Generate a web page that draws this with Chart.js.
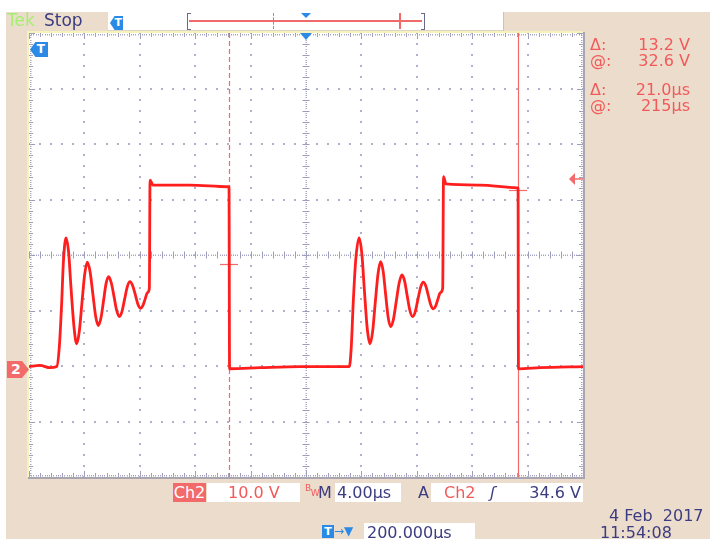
<!DOCTYPE html>
<html><head><meta charset="utf-8">
<script src="https://cdn.jsdelivr.net/npm/chart.js@4.4.0/dist/chart.umd.min.js"></script>
<style>
html,body{margin:0;padding:0;width:710px;height:539px;overflow:hidden;background:#fff;font-family:"DejaVu Sans",sans-serif;}
#bg{position:absolute;left:6px;top:12px;right:0;bottom:0;background:#ecdccb;}
#c{position:absolute;left:0;top:0;}
.t{position:absolute;font-size:16px;line-height:19px;white-space:pre;}
.red{color:#f25a5a;}
.navy{color:#3c3c80;}
.box{position:absolute;background:#fff;}
</style></head>
<body>
<div id="bg"></div>
<div class="box" style="left:108px;top:12px;width:395px;height:18px;border-right:1px solid #c9c4bc;border-bottom:1px solid #ddd3c6;"></div>
<canvas id="c" width="710" height="539"></canvas>

<!-- top bar -->
<div class="t" style="left:7px;top:11px;font-size:17px;color:#a6ee74;">Tek</div>
<div class="t navy" style="left:44px;top:11px;font-size:17px;">Stop</div>
<div style="position:absolute;left:110px;top:16px;width:13px;height:14px;background:#2a8ae6;clip-path:polygon(35% 0,100% 0,100% 100%,35% 100%,0 50%);color:#fff;font:bold 11px 'DejaVu Sans';line-height:14px;text-align:right;padding-right:1px;box-sizing:border-box;">T</div>
<div style="position:absolute;left:187px;top:13px;width:3px;height:15px;border:1.5px solid #6a6a8a;border-right:none;"></div>
<div style="position:absolute;left:421px;top:13px;width:3px;height:15px;border:1.5px solid #6a6a8a;border-left:none;"></div>
<div style="position:absolute;left:189px;top:20px;width:233px;height:1.5px;background:#f06a6a;"></div>
<div style="position:absolute;left:273px;top:13px;width:0;height:16px;border-left:1px dashed #f06a6a;"></div>
<div style="position:absolute;left:399px;top:13px;width:1.5px;height:16px;background:#f06a6a;"></div>
<div style="position:absolute;left:301px;top:13px;width:0;height:0;border-left:5px solid transparent;border-right:5px solid transparent;border-top:5px solid #2a8ae6;"></div>

<!-- graticule markers -->
<div style="position:absolute;left:30px;top:42px;width:18px;height:15px;background:#2a8ae6;clip-path:polygon(30% 0,100% 0,100% 100%,30% 100%,0 50%);color:#fff;font:bold 12px 'DejaVu Sans';line-height:15px;text-align:right;padding-right:3px;box-sizing:border-box;">T</div>
<div style="position:absolute;left:7px;top:361px;width:22px;height:17px;background:#f26a6a;clip-path:polygon(0 0,68% 0,100% 50%,68% 100%,0 100%);color:#fff;font:bold 14px 'DejaVu Sans';line-height:17px;padding-left:4px;box-sizing:border-box;">2</div>

<!-- cursor readouts -->
<div class="t red" style="left:590px;top:35px;">Δ:</div>
<div class="t red" style="left:600px;top:35px;width:90px;text-align:right;">13.2 V</div>
<div class="t red" style="left:590px;top:51px;">@:</div>
<div class="t red" style="left:600px;top:51px;width:90px;text-align:right;">32.6 V</div>
<div class="t red" style="left:590px;top:80px;">Δ:</div>
<div class="t red" style="left:600px;top:80px;width:90px;text-align:right;">21.0µs</div>
<div class="t red" style="left:590px;top:96px;">@:</div>
<div class="t red" style="left:600px;top:96px;width:90px;text-align:right;">215µs</div>

<!-- bottom row 1 -->
<div class="t" style="left:173px;top:483px;width:33px;height:19px;background:#f26a6a;color:#fff;text-align:center;">Ch2</div>
<div class="box" style="left:207px;top:483px;width:93px;height:19px;"></div>
<div class="t red" style="left:228px;top:483px;">10.0 V</div>
<div style="position:absolute;left:305px;top:484px;font:9px 'DejaVu Sans';color:#f25a5a;line-height:9px;">B<span style="position:relative;top:5px;">W</span></div>
<div class="t navy" style="left:318px;top:483px;">M</div>
<div class="box" style="left:335px;top:483px;width:66px;height:19px;"></div>
<div class="t navy" style="left:337px;top:483px;">4.00µs</div>
<div class="t navy" style="left:418px;top:483px;">A</div>
<div class="box" style="left:431px;top:483px;width:152px;height:19px;"></div>
<div class="t red" style="left:444px;top:483px;">Ch2</div>
<div class="t navy" style="left:490px;top:483px;font-style:italic;">ʃ</div>
<div class="t navy" style="left:500px;top:483px;width:81px;text-align:right;">34.6 V</div>

<!-- bottom row 2 -->
<div style="position:absolute;left:322px;top:525px;width:12px;height:13px;background:#2a8ae6;color:#fff;font:bold 11px 'DejaVu Sans';line-height:13px;text-align:center;">T</div>
<div class="t" style="left:334px;top:522px;font-size:12px;color:#2a8ae6;">→▼</div>
<div class="box" style="left:364px;top:523px;width:111px;height:19px;"></div>
<div class="t navy" style="left:367px;top:523px;">200.000µs</div>
<div class="t navy" style="left:609px;top:506px;">4 Feb  2017</div>
<div class="t navy" style="left:600px;top:523px;">11:54:08</div>

<script>
// ---- data (time in µs, voltage in V) ----
const timeUs = [
  0, 0.79, 1.52, 2.0, 2.19, 2.36, 2.48, 2.67,
  2.86, 3.03, 3.25, 3.44,
  3.63, 3.82, 4.02, 4.21,
  4.41, 4.61, 4.81, 5.00,
  5.19, 5.38, 5.56, 5.75,
  5.94, 6.14, 6.33, 6.52,
  6.71, 6.90, 7.10, 7.29,
  7.48, 7.68, 7.87, 8.06,
  8.22, 8.38, 8.55, 8.69,
  8.74, 8.95, 11.6, 14.37, 14.44, 14.48, 16.68, 19.57,
  23.13, 23.27, 23.41, 23.59, 23.83,
  24.03, 24.22, 24.42, 24.62,
  24.81, 25.00, 25.20, 25.39,
  25.57, 25.75, 25.93, 26.11,
  26.32, 26.52, 26.73, 26.93,
  27.12, 27.31, 27.50, 27.70,
  27.89, 28.08, 28.28, 28.47,
  28.65, 28.83, 29.01, 29.19,
  29.36, 29.53, 29.70, 29.87,
  29.93, 30.11, 32.56, 35.23, 35.31, 35.34, 36.9, 40
];
const volts = [
  -0.1, 0.1, -0.3, -0.1, 3.5, 11.4, 18.6, 23.1,
  20.5, 14.2, 7.0, 4.0,
  6.2, 11.3, 16.5, 18.7,
  17.0, 13.0, 9.0, 7.3,
  8.6, 11.7, 14.8, 16.1,
  15.0, 12.5, 10.0, 8.9,
  9.8, 12.0, 14.3, 15.2,
  14.5, 12.8, 11.1, 10.4,
  10.9, 12.0, 13.2, 14.0,
  33.5, 32.6, 32.6, 32.3, 32.3, -0.5, -0.3, -0.1,
  -0.1, 3.5, 11.4, 19.1, 23.1,
  20.3, 13.5, 6.8, 4.0,
  6.2, 11.4, 16.6, 18.8,
  17.1, 12.9, 8.8, 7.1,
  8.5, 11.7, 15.0, 16.4,
  15.3, 12.6, 10.0, 8.9,
  9.8, 12.0, 14.2, 15.1,
  14.4, 12.7, 11.0, 10.3,
  10.8, 12.1, 13.2, 14.0,
  34.1, 32.8, 32.6, 32.1, 32.1, -0.5, -0.3, -0.1
];
const xTicks = [0,4,8,12,16,20,24,28,32,36,40];
const yTicks = [-20,-10,0,10,20,30,40,50,60];
const cursorTimes = [14.44, 35.31];
const cursorLevels = [18.4, 31.7];
const triggerLevel = 33.7;
const triggerTime = 20;

const graticule = {
  id:'graticule',
  beforeDatasetsDraw(chart){
    const {ctx, chartArea:a, scales:{x,y}} = chart;
    ctx.save();
    ctx.fillStyle='#ffffff';
    ctx.fillRect(a.left,a.top,a.right-a.left,a.bottom-a.top);
    const dot=(px,py,c)=>{ctx.fillStyle=c;ctx.fillRect(Math.round(px)-1,Math.round(py)-1,2,2);};
    const xMinor=(xTicks[1]-xTicks[0])/5, yMinor=(yTicks[1]-yTicks[0])/5;
    const xMin=xTicks[0], xMax=xTicks[xTicks.length-1], yMin=yTicks[0], yMax=yTicks[yTicks.length-1];
    const dc='#b0b0ca';
    xTicks.slice(1,-1).forEach(tx=>{
      if (tx===triggerTime) return;
      for(let v=yMin; v<=yMax+1e-6; v+=yMinor) dot(x.getPixelForValue(tx), y.getPixelForValue(v), dc);
    });
    yTicks.slice(1,-1).forEach(ty=>{
      if (ty===20) return;
      for(let t=xMin; t<=xMax+1e-6; t+=xMinor) dot(x.getPixelForValue(t), y.getPixelForValue(ty), dc);
    });
    const cx=x.getPixelForValue(20), cy=y.getPixelForValue(20);
    ctx.fillStyle='#a6a6c4';
    for(let t=xMin; t<=xMax+1e-6; t+=xMinor/5) ctx.fillRect(Math.round(x.getPixelForValue(t)),Math.round(cy)-0.5,1,1.5);
    for(let v=yMin; v<=yMax+1e-6; v+=yMinor/5) ctx.fillRect(Math.round(cx)-0.5,Math.round(y.getPixelForValue(v)),1.5,1);
    ctx.strokeStyle='#9c9cbc'; ctx.lineWidth=1;
    ctx.beginPath();
    for(let t=xMin; t<=xMax+1e-6; t+=xMinor){const px=Math.round(x.getPixelForValue(t))+0.5; ctx.moveTo(px,cy-3.5); ctx.lineTo(px,cy+3.5);}
    for(let v=yMin; v<=yMax+1e-6; v+=yMinor){const py=Math.round(y.getPixelForValue(v))+0.5; ctx.moveTo(cx-3.5,py); ctx.lineTo(cx+3.5,py);}
    let i=0;
    for(let t=xMin; t<=xMax+1e-6; t+=xMinor, i++){const px=Math.round(x.getPixelForValue(t))+0.5; const L=(i%5===0)?6:4;
      ctx.moveTo(px,a.top); ctx.lineTo(px,a.top+L); ctx.moveTo(px,a.bottom); ctx.lineTo(px,a.bottom-L);}
    i=0;
    for(let v=yMin; v<=yMax+1e-6; v+=yMinor, i++){const py=Math.round(y.getPixelForValue(v))+0.5; const L=(i%5===0)?6:4;
      ctx.moveTo(a.left,py); ctx.lineTo(a.left+L,py); ctx.moveTo(a.right,py); ctx.lineTo(a.right-L,py);}
    ctx.stroke();
    ctx.fillStyle='#a6a6c4';
    for(let t=xMin; t<=xMax+1e-6; t+=xMinor/5){const px=Math.round(x.getPixelForValue(t)); ctx.fillRect(px,a.top+1,1,1.5); ctx.fillRect(px,a.bottom-2,1,1.5);}
    for(let v=yMin; v<=yMax+1e-6; v+=yMinor/5){const py=Math.round(y.getPixelForValue(v)); ctx.fillRect(a.left+1,py,1.5,1); ctx.fillRect(a.right-2,py,1.5,1);}
    ctx.lineWidth=2;
    ctx.strokeStyle='#f6f2bc';
    ctx.beginPath(); ctx.moveTo(a.left-1,a.bottom); ctx.lineTo(a.left-1,a.top-1); ctx.lineTo(a.right,a.top-1); ctx.stroke();
    ctx.strokeStyle='#a8a4b0';
    ctx.beginPath(); ctx.moveTo(a.right+1,a.top-1); ctx.lineTo(a.right+1,a.bottom+1); ctx.lineTo(a.left-1,a.bottom+1); ctx.stroke();
    ctx.strokeStyle='#f26a6a'; ctx.lineWidth=1.2;
    cursorTimes.forEach((ct,k)=>{
      const px=Math.round(x.getPixelForValue(ct))+0.5;
      ctx.setLineDash(k===0?[5,3]:[]);
      ctx.beginPath(); ctx.moveTo(px,a.top); ctx.lineTo(px,a.bottom); ctx.stroke();
    });
    ctx.setLineDash([]);
    cursorTimes.forEach((ct,k)=>{
      const px=x.getPixelForValue(ct), py=Math.round(y.getPixelForValue(cursorLevels[k]))+0.5;
      ctx.beginPath(); ctx.moveTo(px-9,py); ctx.lineTo(px+9,py); ctx.stroke();
    });
    const tp=x.getPixelForValue(triggerTime);
    ctx.fillStyle='#2a8ae6';
    ctx.beginPath(); ctx.moveTo(tp-6,a.top); ctx.lineTo(tp+6,a.top); ctx.lineTo(tp,a.top+7); ctx.closePath(); ctx.fill();
    const tl=y.getPixelForValue(triggerLevel);
    ctx.fillStyle='#f26a6a';
    ctx.beginPath(); ctx.moveTo(a.right-14,tl); ctx.lineTo(a.right-8,tl-6); ctx.lineTo(a.right-8,tl+6); ctx.closePath(); ctx.fill();
    ctx.fillRect(a.right-9,tl-0.75,9,1.5);
    ctx.restore();
  }
};

new Chart(document.getElementById('c'), {
  type:'line',
  data:{datasets:[{
    data: timeUs.map((t,i)=>({x:t,y:volts[i]})),
    borderColor:'#ff1e1e', borderWidth:2.8, pointRadius:0,
    cubicInterpolationMode:'monotone', fill:false
  }]},
  options:{
    responsive:false, animation:false,
    layout:{padding:{left:29,top:33,right:127,bottom:62}},
    plugins:{legend:{display:false},tooltip:{enabled:false}},
    scales:{
      x:{type:'linear',min:xTicks[0],max:xTicks[xTicks.length-1],display:false},
      y:{type:'linear',min:yTicks[0],max:yTicks[yTicks.length-1],display:false}
    }
  },
  plugins:[graticule]
});
</script>
</body></html>
